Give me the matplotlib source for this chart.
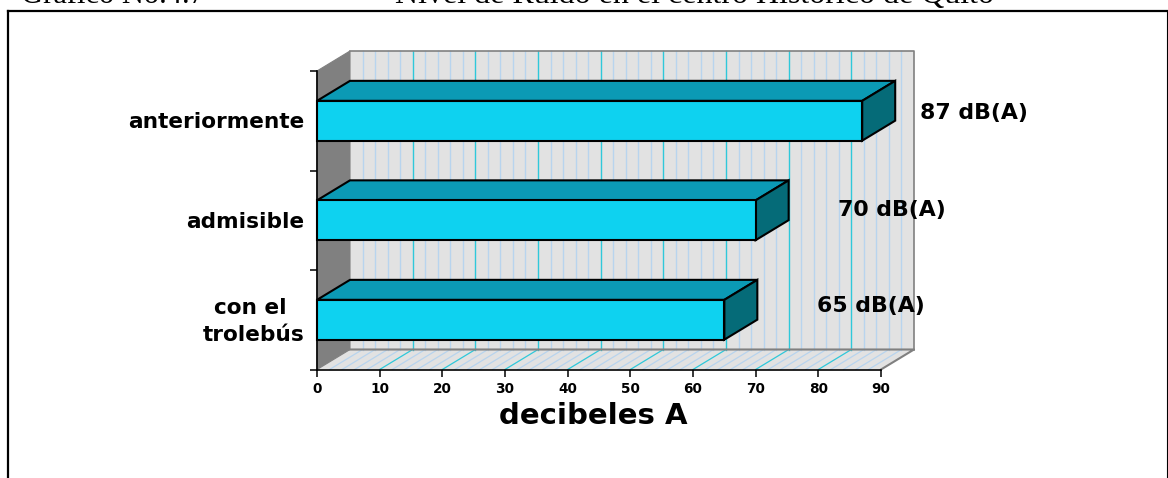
import numpy as np
from matplotlib import pyplot as plt
from matplotlib.patches import Polygon, Rectangle

categories = ['con el \ntrolebús', 'admisible', 'anteriormente']
values = [65, 70, 87]
value_labels = ['65 dB(A)', '70 dB(A)', '87 dB(A)']
x_ticks = [0, 10, 20, 30, 40, 50, 60, 70, 80, 90]

W, H = 1168, 478
X0, X1 = 317, 881      # pixel ends of the x axis
Y0, Y1 = 369.5, 71     # pixel ends of the y axis
DX = 33 / (X1 - X0) * 90   # depth of the 3d look, in data units
DY = 20 / (Y0 - Y1) * 3

plt.rcParams['font.family'] = ['DejaVu Sans']

BLUE = '#0ed2f0'
TOP = '#0b9ab5'
SIDE = '#056b78'
WALL = '#e2e2e2'
MINOR = '#b8d4ee'
MAJOR = '#2fc8da'
GRAY = '#808080'


def poly(ax, pts, face, edge='black', lw=1.5, z=2):
    ax.add_patch(Polygon(pts, closed=True, facecolor=face, edgecolor=edge,
                         linewidth=lw, zorder=z, clip_on=False,
                         joinstyle='miter'))


fig = plt.figure(figsize=(W / 100, H / 100), dpi=100, facecolor='white')

# frame of the page, open at the bottom
bg = fig.add_axes([0, 0, 1, 1])
bg.set_xlim(0, W)
bg.set_ylim(H, 0)
bg.axis('off')
bg.plot([8, 8], [H, 11], color='black', lw=1.6)
bg.plot([8, 1167], [11, 11], color='black', lw=1.6)
bg.plot([1167, 1167], [11, H], color='black', lw=0.8)
bg.text(21, 3, 'Gráfico No.4.7', family='Liberation Serif', fontsize=22,
        va='baseline', ha='left')
bg.text(395, 3, 'Nivel de Ruido en el centro Histórico de Quito',
        family='Liberation Serif', fontsize=23, va='baseline', ha='left')

ax = fig.add_axes([X0 / W, 1 - Y0 / H, (X1 - X0) / W, (Y0 - Y1) / H])
ax.set_xlim(0, 90)
ax.set_ylim(0, 3)
ax.patch.set_visible(False)
for s in ['top', 'right']:
    ax.spines[s].set_visible(False)
for s in ['left', 'bottom']:
    ax.spines[s].set_linewidth(1.2)

# walls
poly(ax, [(DX, DY), (90 + DX, DY), (90 + DX, 3 + DY), (DX, 3 + DY)], WALL, 'none', 0, 0)
poly(ax, [(0, 0), (90, 0), (90 + DX, DY), (DX, DY)], WALL, 'none', 0, 0)
poly(ax, [(0, 0), (DX, DY), (DX, 3 + DY), (0, 3)], GRAY, GRAY, 0.8, 0)

for v in np.arange(2, 90, 2):
    major = v % 10 == 0
    c = MAJOR if major else MINOR
    ax.plot([v + DX, v + DX], [DY, 3 + DY], color=c, lw=1.0, zorder=1, clip_on=False)
    ax.plot([v, v + DX], [0, DY], color=c, lw=0.9, zorder=1, clip_on=False)

# wall edges go over the grid
ax.plot([DX, 90 + DX, 90 + DX], [3 + DY, 3 + DY, DY], color=GRAY, lw=1.2, zorder=1.5, clip_on=False)
ax.plot([DX, 90 + DX, 90], [DY, DY, 0], color=GRAY, lw=1.5, zorder=1.5, clip_on=False)

# bars
y_pos = np.arange(len(categories)) + 0.5
bh = 0.4
for y, v in zip(y_pos, values):
    b, t = y - bh / 2, y + bh / 2
    poly(ax, [(0, t), (v, t), (v + DX, t + DY), (DX, t + DY)], TOP, z=3)
    poly(ax, [(v, b), (v + DX, b + DY), (v + DX, t + DY), (v, t)], SIDE, z=3)
    ax.add_patch(Rectangle((0, b), v, bh, facecolor=BLUE, edgecolor='black',
                           linewidth=1.5, zorder=4, clip_on=False))

# the labels sit by hand in the original, not at a fixed gap from the bar
for v, y, lab, off, dy in zip(values, y_pos, value_labels, [93, 82, 58], [14, 10, 8]):
    ax.annotate(lab, (v, y), xytext=(off * 0.72, dy * 0.72), textcoords='offset points',
                fontsize=15.8, fontweight='bold', va='center', ha='left', zorder=6)

ax.set_xticks(x_ticks)
ax.set_xticklabels(x_ticks, fontsize=9.8, fontweight='bold')
ax.set_yticks([0, 1, 2, 3])
ax.set_yticklabels([])
ax.tick_params(axis='both', length=5, width=1.1)
ax.tick_params(axis='x', pad=4)
for y, c in zip(y_pos, categories):
    ax.annotate(c, (0, y), xytext=(-9, -1), textcoords='offset points', fontsize=15.6,
                fontweight='bold', ha='right', va='center', linespacing=1.45, multialignment='center')
ax.set_xlabel('decibeles A', fontsize=21, fontweight='bold', labelpad=4)
ax.xaxis.label.set_x(0.49)

fig.savefig('out.png', dpi=100)
plt.close()
